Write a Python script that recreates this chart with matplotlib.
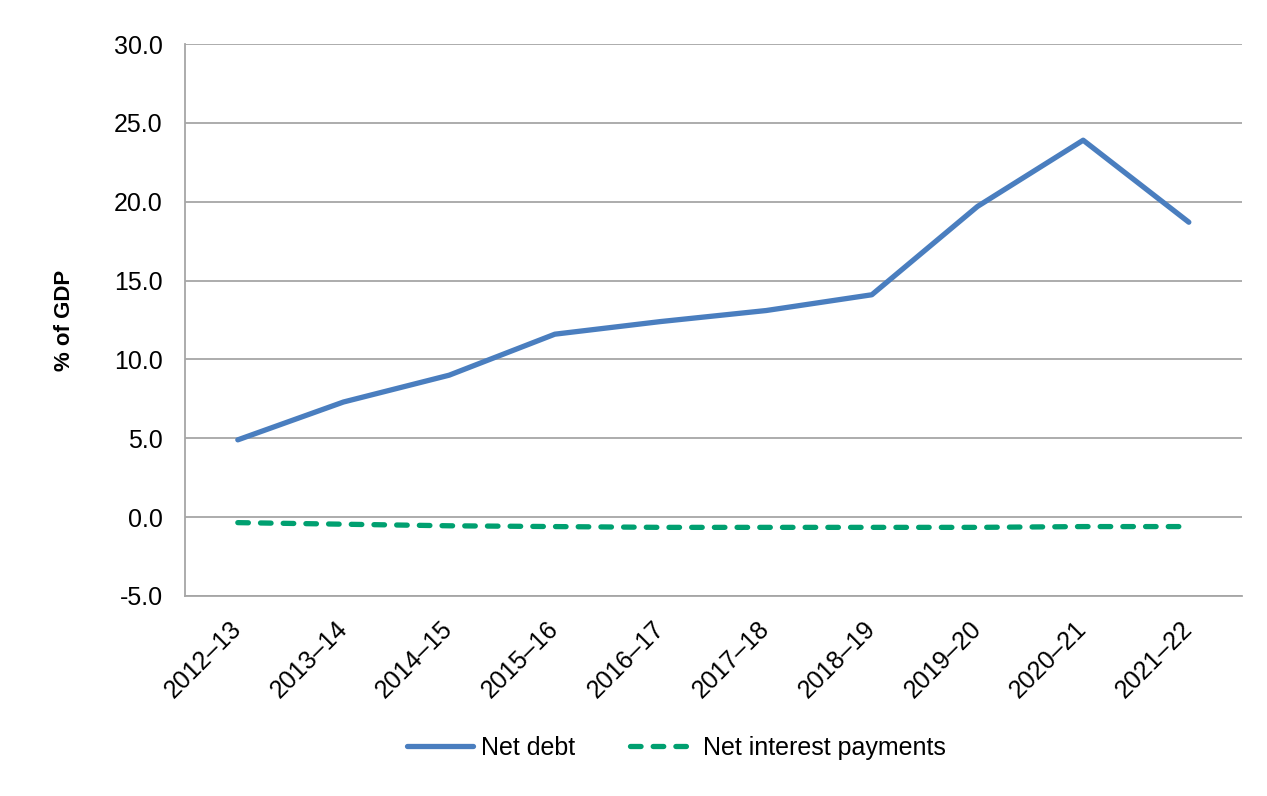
import matplotlib.pyplot as plt

plt.rcParams['font.family'] = ['Liberation Sans', 'DejaVu Sans']

years = ['2012–13', '2013–14', '2014–15', '2015–16', '2016–17',
         '2017–18', '2018–19', '2019–20', '2020–21', '2021–22']
net_debt = [4.9, 7.3, 9.0, 11.6, 12.4, 13.1, 14.1, 19.7, 23.9, 18.7]
net_interest = [-0.35, -0.45, -0.55, -0.6, -0.65, -0.65, -0.65, -0.65, -0.6, -0.6]

fig = plt.figure(figsize=(12.67, 7.96), dpi=100)
ax = fig.add_axes([0.146, 0.2513, 0.834, 0.6934])

x = range(len(years))
ax.plot(x, net_debt, color='#4A7EBF', lw=3.8, solid_capstyle='round', label='Net debt')
ax.plot(x, net_interest, color='#00A070', lw=3.8, dashes=(2.0, 2.3),
        dash_capstyle='round', label='Net interest payments')

ax.set_xlim(-0.5, len(years) - 0.5)
ax.set_ylim(-5, 30)
ax.set_yticks([-5, 0, 5, 10, 15, 20, 25, 30])
ax.set_yticklabels(['%.1f' % v for v in [-5, 0, 5, 10, 15, 20, 25, 30]])
ax.set_xticks(list(x))
ax.set_xticklabels(years, rotation=45, ha='right', va='center', rotation_mode='anchor')
ax.tick_params(axis='both', length=0, labelsize=18)
ax.tick_params(axis='x', pad=21)
ax.tick_params(axis='y', pad=16)

ax.grid(axis='y', color='#A6A6A6', lw=1.3)
ax.set_axisbelow(True)
for s in ['top', 'right']:
    ax.spines[s].set_visible(False)
for s in ['left', 'bottom']:
    ax.spines[s].set_color('#A6A6A6')
    ax.spines[s].set_linewidth(1.3)

ax.set_ylabel('% of GDP', fontsize=16, fontweight='bold', labelpad=28)

fig.legend(loc='center', bbox_to_anchor=(0.534, 0.06), ncol=2, frameon=False,
           fontsize=18, handlelength=2.65, columnspacing=2.2, handletextpad=0.3)

fig.savefig('out.png', dpi=100)
